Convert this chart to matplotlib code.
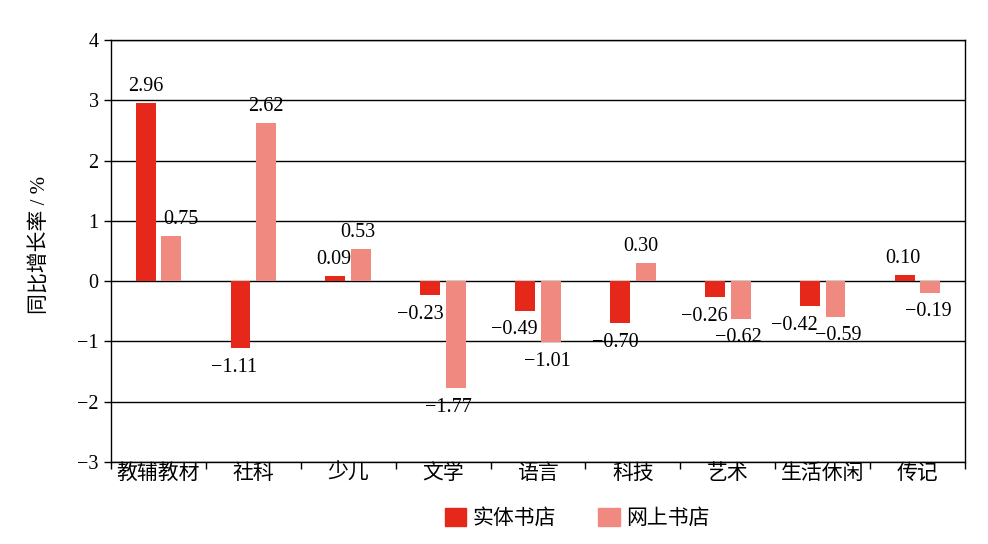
import matplotlib
matplotlib.use("Agg")
import matplotlib.pyplot as plt
from matplotlib.patches import Patch
import numpy as np

categories = ["教辅教材", "社科", "少儿", "文学", "语言", "科技", "艺术", "生活休闲", "传记"]
physical = [2.96, -1.11, 0.09, -0.23, -0.49, -0.70, -0.26, -0.42, 0.10]
online = [0.75, 2.62, 0.53, -1.77, -1.01, 0.30, -0.62, -0.59, -0.19]
series_names = ["实体书店", "网上书店"]
yticks = [-3, -2, -1, 0, 1, 2, 3, 4]

# horizontal nudges of the value labels (pixels), as in the reference layout
physical_label_dx = [0, -6, -2, -10, -11, -5, -11, -15, -2]
online_label_dx = [10, 0, -3, -7, -3, -5, -2, 3, -2]

c_phys = "#E5281A"
c_online = "#F08A80"
serif = ["Liberation Serif", "Noto Sans CJK SC"]
cjk = ["Noto Sans CJK SC", "DejaVu Sans"]

fig = plt.figure(figsize=(9.88, 5.44), dpi=100)
ax = fig.add_axes([111/988, 1-462/544, (965-111)/988, (462-40)/544])

x = np.arange(len(categories))
w = 0.21
off = 0.135
b1 = ax.bar(x - off, physical, w, color=c_phys, zorder=3)
b2 = ax.bar(x + off, online, w, color=c_online, zorder=3)

ax.set_xlim(-0.5, len(categories) - 0.5)
ax.set_ylim(-3, 4)
ax.set_yticks(yticks)
ax.set_yticklabels([f"{t}".replace("-", "\u2212") for t in yticks], family=serif, fontsize=14.5)
ax.yaxis.grid(True, color="black", linewidth=1.0, zorder=0)
ax.set_axisbelow(True)

ax.set_xticks(x)
ax.set_xticklabels(categories, family=cjk, fontsize=15)
ax.set_xticks(np.arange(len(categories) + 1) - 0.5, minor=True)
ax.tick_params(axis="x", which="major", length=0, pad=0)
ax.tick_params(axis="x", which="minor", length=5, width=1, direction="out")
ax.tick_params(axis="y", which="major", length=5, width=1, direction="out", pad=4)

for s in ["left", "right", "bottom", "top"]:
    ax.spines[s].set_linewidth(1.0)
    ax.spines[s].set_color("black")

ax.set_ylabel("同比增长率 / %", family=serif, fontsize=15, labelpad=20)
ax.yaxis.set_label_coords(-0.072, 0.515)


def fmt(v):
    return f"{v:.2f}".replace("-", "\u2212")


for bars, vals, dxs in ((b1, physical, physical_label_dx), (b2, online, online_label_dx)):
    for r, v, dx in zip(bars, vals, dxs):
        cx = r.get_x() + r.get_width() / 2
        if v >= 0:
            ax.annotate(fmt(v), (cx, v), xytext=(dx * 0.72, 5), textcoords="offset points",
                        ha="center", va="bottom", family=serif, fontsize=14.5, zorder=5)
        else:
            ax.annotate(fmt(v), (cx, v), xytext=(dx * 0.72, -7), textcoords="offset points",
                        ha="center", va="top", family=serif, fontsize=14.5, zorder=5)

handles = [Patch(color=c_phys), Patch(color=c_online)]
fig.legend(handles, series_names, loc="center", bbox_to_anchor=(577/988, 1-518/544),
           ncol=2, frameon=False, prop={"family": cjk, "size": 15},
           handlelength=1.05, handleheight=0.95, handletextpad=0.3, columnspacing=2.0)

fig.savefig("out.png", dpi=100)
